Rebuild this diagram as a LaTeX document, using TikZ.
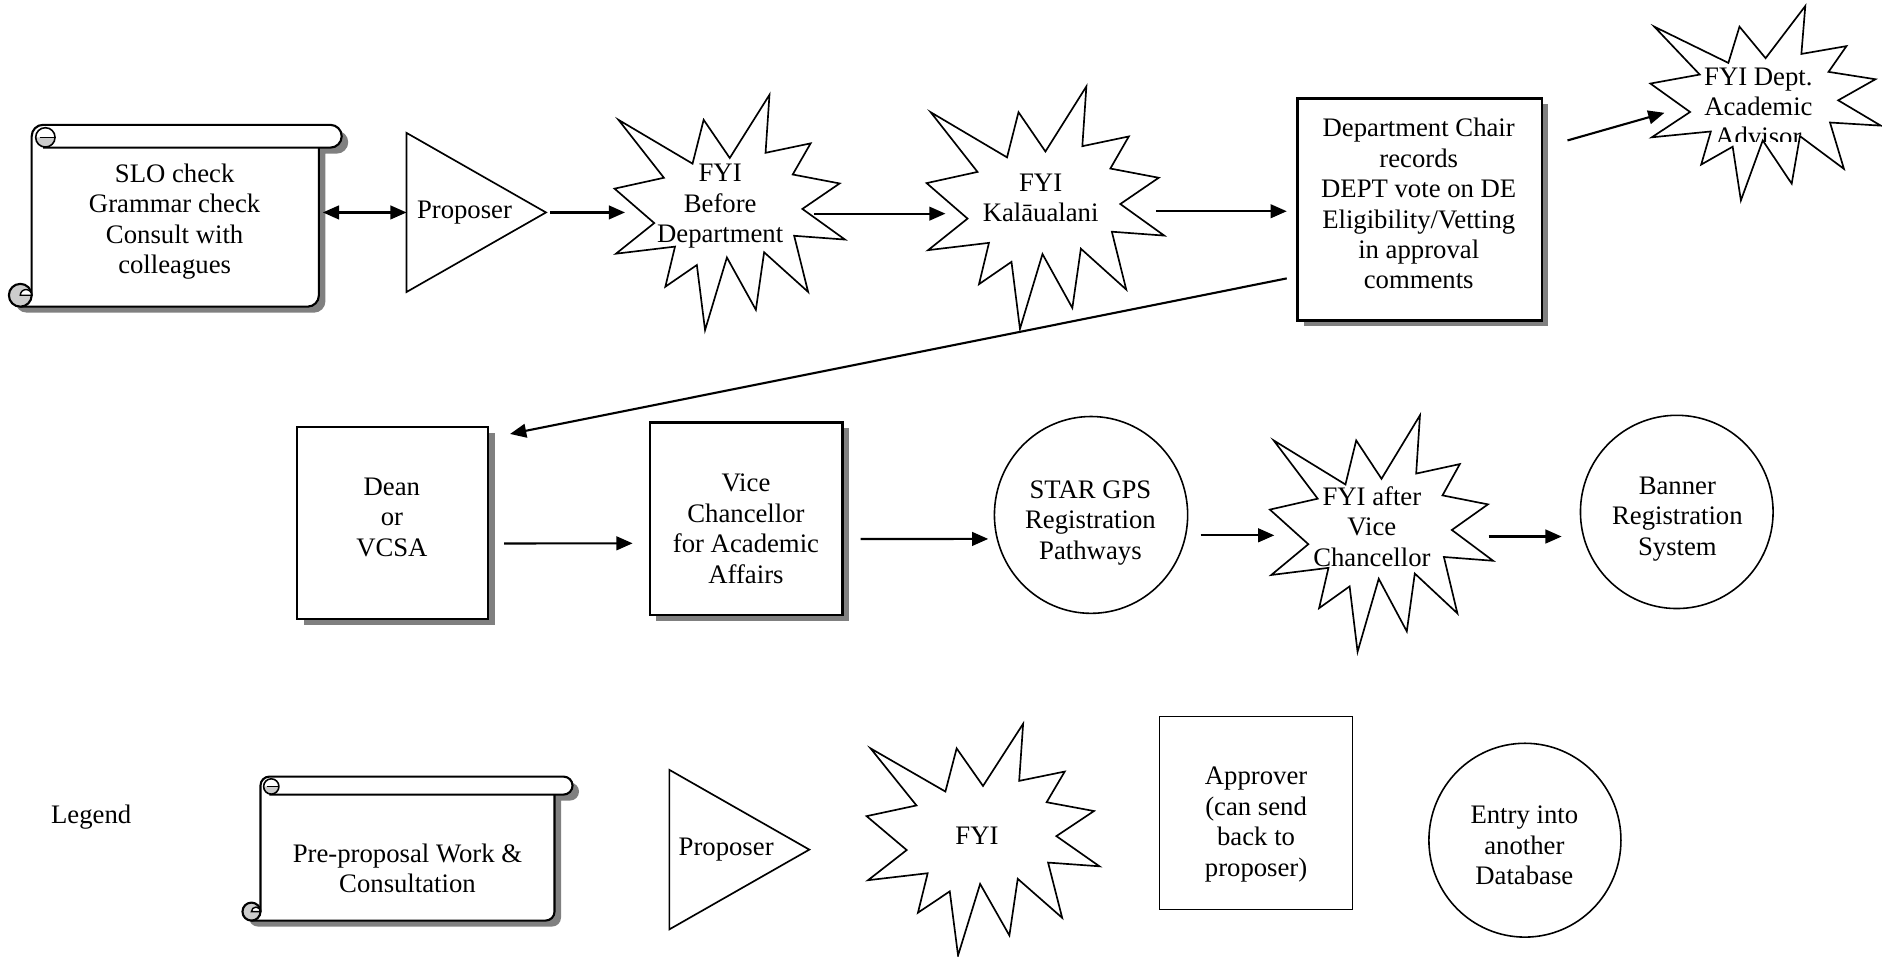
\documentclass[tikz,border=0pt]{standalone}
\usepackage{fontspec}
\setmainfont{Liberation Serif}
\usetikzlibrary{arrows.meta,shadows,fit,shapes.geometric,calc}
\tikzset{
  explo/.style n args={4}{insert path={
 (#1+0.5*#3,#2+0.2685*#4) -- (#1+0.6723*#3,#2) -- (#1+0.6553*#3,#2+0.2465*#4) -- (#1+0.8509*#3,#2+0.2063*#4) -- (#1+0.7732*#3,#2+0.3387*#4) -- (#1+0.9767*#3,#2+0.3767*#4) -- (#1+0.8151*#3,#2+0.485*#4) -- (#1+#3,#2+0.6153*#4) -- (#1+0.7795*#3,#2+0.5992*#4) -- (#1+0.84*#3,#2+0.8377*#4) -- (#1+0.6491*#3,#2+0.6693*#4) -- (#1+0.6133*#3,#2+0.9137*#4) -- (#1+0.4876*#3,#2+0.6914*#4) -- (#1+0.3928*#3,#2+#4) -- (#1+0.3572*#3,#2+0.7235*#4) -- (#1+0.2205*#3,#2+0.8156*#4) -- (#1+0.2624*#3,#2+0.6452*#4) -- (#1+0.00625*#3,#2+0.6753*#4) -- (#1+0.1723*#3,#2+0.5451*#4) -- (#1,#2+0.3988*#4) -- (#1+0.2142*#3,#2+0.3526*#4) -- (#1+0.0171*#3,#2+0.1063*#4) -- (#1+0.3385*#3,#2+0.2926*#4) -- (#1+0.3867*#3,#2+0.1063*#4) -- cycle}},
  txt/.style={align=center, inner sep=0pt, font=\fontsize{15.2}{17.3}\selectfont},
  bbox/.style={inner sep=0pt, draw=none},
  boxs/.style={draw, line width=1.3pt, fill=white, inner sep=0pt,
    drop shadow={shadow xshift=3.7pt, shadow yshift=-3.4pt, fill=black!50, opacity=1}},
  plainbox/.style={draw, line width=0.9pt, inner sep=0pt},
  shp/.style={line width=0.95pt, line join=miter},
  circ/.style={draw, ellipse, line width=0.9pt, inner sep=0pt},
  scrline/.style={line width=1.2pt},
  arr/.style={-{Triangle[length=9.2pt,width=7.8pt]}, line width=1.2pt},
  dbl/.style={{Triangle[length=9.2pt,width=7.8pt]}-{Triangle[length=9.2pt,width=7.8pt]}, line width=1.2pt}
}
\newcommand{\scrollshape}[5]{%
 \pgfmathsetmacro{\sL}{#1}\pgfmathsetmacro{\sT}{#2}\pgfmathsetmacro{\sR}{#3}\pgfmathsetmacro{\sB}{#4}%
 \pgfmathsetmacro{\sc}{#5}\pgfmathsetmacro{\sh}{#5/2}\pgfmathsetmacro{\sq}{#5/4}%
 \pgfmathsetmacro{\sLb}{#1+#5}\pgfmathsetmacro{\sRb}{#3-#5}%
 \pgfmathsetmacro{\scx}{\sLb+1.2*\sh}\pgfmathsetmacro{\scy}{\sT+1.1*\sh}\pgfmathsetmacro{\scr}{0.85*\sh}%
 \fill[black!50, xshift=3.7pt, yshift=-3.4pt] (\sLb,\sT+\sh) arc[start angle=180,end angle=270,radius=\sh] -- (\sR-\sh,\sT) arc[start angle=-90,end angle=90,radius=\sh] -- (\sRb,\sT+\sc) -- (\sRb,\sB-\sh) arc[start angle=0,end angle=90,radius=\sh] -- (\sL+\sh,\sB) arc[start angle=90,end angle=270,radius=\sh] -- (\sLb,\sB-\sc) -- cycle;
 \fill[white] (\sLb,\sT+\sh) arc[start angle=180,end angle=270,radius=\sh] -- (\sR-\sh,\sT) arc[start angle=-90,end angle=90,radius=\sh] -- (\sRb,\sT+\sc) -- (\sRb,\sB-\sh) arc[start angle=0,end angle=90,radius=\sh] -- (\sL+\sh,\sB) arc[start angle=90,end angle=270,radius=\sh] -- (\sLb,\sB-\sc) -- cycle;
 \draw[scrline] (\sLb,\sB-\sh) -- (\sLb,\sT+\sh) arc[start angle=180,end angle=270,radius=\sh] -- (\sR-\sh,\sT) arc[start angle=-90,end angle=90,radius=\sh] -- (\sLb+\sh,\sT+\sc);
 \draw[scrline] (\sRb,\sT+\sc) -- (\sRb,\sB-\sh) arc[start angle=0,end angle=90,radius=\sh] -- (\sL+\sh,\sB);
 \draw[scrline, fill=black!20] (\sL+\sh,\sB-\sh) circle[radius=\sh];
 \draw[line width=0.8pt, fill=white] (\sLb,\sB-\sh) arc[start angle=0,end angle=-180,radius=\sq] -- cycle;
 \fill[black!20] (\scx-\scr,\scy) arc[start angle=180,end angle=0,radius=\scr] -- cycle;
 \draw[line width=0.9pt] (\scx,\scy) circle[radius=\scr];
 \draw[line width=0.8pt] (\scx-0.6*\scr,\scy) -- (\scx+\scr,\scy);
}
\begin{document}
\begin{tikzpicture}[x=0.024cm, y=-0.024cm]
\fill[white] (0,0) rectangle (1568,797);
\useasboundingbox (0,0) rectangle (1568,797);

% ---------- Row 1 ----------
\scrollshape{7.4}{104}{284.7}{255.5}{19}
\node[bbox, fit={(26.4,123) (265.7,255.5)}] (scroll1) {};
\node[txt] (scroll1t) at (145.5,184.5) {SLO check\\Grammar check\\Consult with\\colleagues};

\node[bbox, fit={(339,111) (454.6,243)}] (prop1) {};
\draw[shp] (prop1.north west) -- (prop1.east) -- (prop1.south west) -- cycle;
\node[txt] (prop1t) at (387,177) {Proposer};

\node[bbox, fit={(512,79) (704,275)}] (s1) {};
\node[txt] (s1t) at (600,172) {FYI\\Before\\Department};
\draw[shp, explo={512}{79}{192}{196}];

\node[bbox, fit={(772,72) (970,274)}] (s2) {};
\node[txt] (s2t) at (867,165) {FYI\\Kalāualani};
\draw[shp, explo={772}{72}{198}{202}];

\node[boxs, fit={(1081,82) (1284.6,267)}] (chair) {};
\node[txt] (chairt) at (1182,169.8) {Department Chair\\records\\DEPT vote on DE\\Eligibility/Vetting\\in approval\\comments};

\node[bbox, fit={(1375,5) (1567,167)}] (s3) {};
\begin{scope}
  \clip (1375,5) rectangle (1567,118);
  \node[txt] (s3t) at (1465,89) {FYI Dept.\\Academic\\Advisor};
\end{scope}
\draw[shp, explo={1375}{5}{192}{162}];

% ---------- Row 2 ----------
\node[boxs, fit={(247.5,355.6) (406.6,516)}] (dean) {};
\node[txt] (deant) at (326.5,430.8) {Dean\\or\\VCSA};

\node[boxs, fit={(541.4,352) (702,512.5)}] (vcaa) {};
\node[txt] (vcaat) at (621.5,440.5) {Vice\\Chancellor\\for Academic\\Affairs};

\node[circ, minimum width=161*0.024cm, minimum height=164*0.024cm] (gps) at (909,429) {};
\node[txt] (gpst) at (908.5,435.7) {STAR GPS\\Registration\\Pathways};

\node[bbox, fit={(1058,346) (1244,543)}] (s4) {};
\node[txt] (s4t) at (1143,438.5) {FYI after\\Vice\\Chancellor};
\draw[shp, explo={1058}{346}{186}{197}];

\node[circ, minimum width=160.5*0.024cm, minimum height=161*0.024cm] (banner) at (1397,426.5) {};
\node[txt] (bannert) at (1397.5,432.3) {Banner\\Registration\\System};

% ---------- Legend ----------
\node[txt] (legend) at (76,681) {Legend};

\scrollshape{202}{647}{477}{767}{15}
\node[bbox, fit={(217,662) (462,767)}] (scroll2) {};
\node[txt] (scroll2t) at (339.5,723.6) {Pre-proposal Work \&\\Consultation};

\node[bbox, fit={(558,641.7) (674,774)}] (prop2) {};
\draw[shp] (prop2.north west) -- (prop2.east) -- (prop2.south west) -- cycle;
\node[txt] (prop2t) at (605,708) {Proposer};

\node[bbox, fit={(722,603) (916,796)}] (s5) {};
\node[txt] (s5t) at (814,696) {FYI};
\draw[shp, explo={722}{603}{194}{193}];

\node[plainbox, fit={(966,597) (1127,757.6)}] (appr) {};
\node[txt] (apprt) at (1046.5,687) {Approver\\(can send\\back to\\proposer)};

\node[circ, minimum width=160*0.024cm, minimum height=161.5*0.024cm] (entry) at (1270.5,700) {};
\node[txt] (entryt) at (1270,704.4) {Entry into\\another\\Database};

% ---------- Connectors ----------
\draw[dbl] ($(scroll1.east |- prop1.west)+(3,0)$) -- (prop1.west);
\draw[arr] ($(prop1.east)+(3.5,0)$) -- ($(s1.west |- prop1.east)+(9,0)$);
\draw[arr] ($(s1.east)+(-26,1)$) -- ($(s2.west |- s1.east)+(16,1)$);
\draw[arr] ($(s2.east |- chair.west)+(-7,1.5)$) -- ($(chair.west)+(-8,1.5)$);
\draw[arr] ($(chair.east)+(20.4,-57.5)$) -- ($(s3.west)+(12,8)$);
\draw[arr] ($(chair.south west)+(-8,-36)$) -- ($(dean.north east)+(17.4,6.9)$);
\draw[arr] ($(dean.east)+(12.4,17)$) -- ($(vcaa.west)+(-13.4,20.4)$);
\draw[arr] ($(vcaa.east)+(14,16.8)$) -- ($(gps.west)+(-4.5,20)$);
\draw[arr] ($(gps.east)+(10.2,17)$) -- ($(s4.west)+(4,1.5)$);
\draw[arr] ($(s4.east)+(-4,2.5)$) -- ($(banner.west)+(-15,20.5)$);
\end{tikzpicture}
\end{document}
